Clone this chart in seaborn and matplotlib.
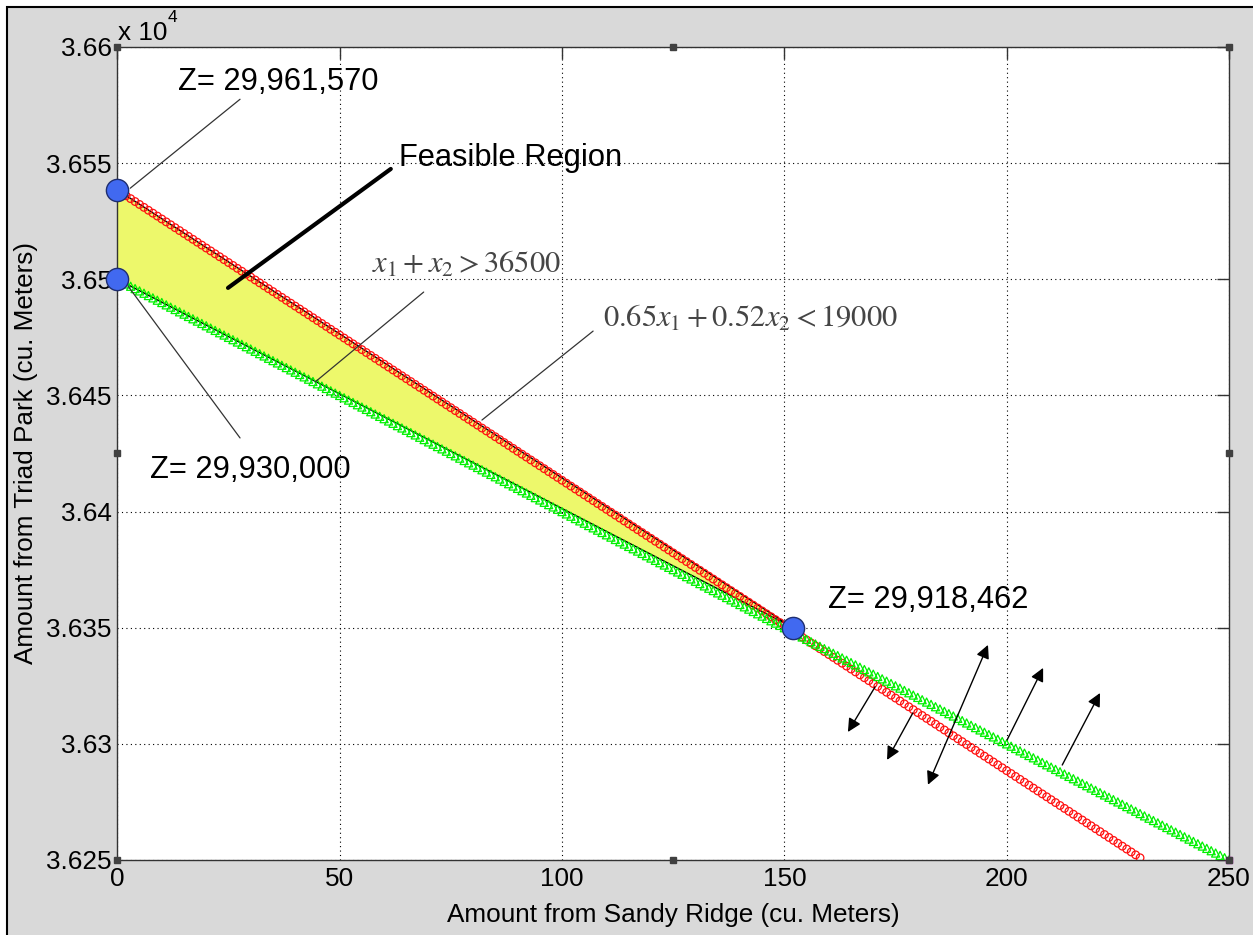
import numpy as np
import matplotlib
matplotlib.use("Agg")
import matplotlib.pyplot as plt
import seaborn as sns
from matplotlib.patches import Rectangle, Polygon

# Constraint lines: coefficients of x1, x2 and right-hand side
capacity_coef = [0.65, 0.52]
capacity_rhs = 19000
demand_coef = [1.0, 1.0]
demand_rhs = 36500

# x1 values sampled along each constraint (1 cu. m steps, as in the plot)
capacity_x = np.arange(0, 231)
demand_x = np.arange(0, 251)

# Corner points of the feasible region and their objective values
corner_x = [0, 0, 152]
corner_y = [36538.5, 36500, 36350]
corner_labels = ["Z= 29,961,570", "Z= 29,930,000", "Z= 29,918,462"]

# Axis ticks
xticks = [0, 50, 100, 150, 200, 250]
yticks = [36250, 36300, 36350, 36400, 36450, 36500, 36550, 36600]
ytick_labels = ["3.625", "3.63", "3.635", "3.64", "3.645", "3.65", "3.655", "3.66"]

capacity_y = (capacity_rhs - capacity_coef[0] * capacity_x) / capacity_coef[1]
demand_y = (demand_rhs - demand_coef[0] * demand_x) / demand_coef[1]

sns.set_style("white")
plt.rcParams["font.family"] = ["Liberation Sans", "DejaVu Sans"]
plt.rcParams["text.color"] = "black"
plt.rcParams["axes.labelcolor"] = "black"

fig = plt.figure(figsize=(12.53, 9.35), dpi=100, facecolor="white")
# gray MATLAB figure window with a black frame on left/top
fig.patches.append(Rectangle((7 / 1253, -0.05), 1.1, 1.05 - 7 / 935,
                             transform=fig.transFigure, facecolor="#D9D9D9",
                             edgecolor="black", lw=1.5, zorder=-10))

ax = fig.add_axes([117.3 / 1253, 75 / 935, 1111.7 / 1253, 813 / 935])
ax.set_facecolor("white")

# feasible region
ax.add_patch(Polygon(list(zip(corner_x, corner_y)), closed=True,
                     facecolor="#EDF86B", edgecolor="black", lw=1.0, zorder=2))

sns.scatterplot(x=capacity_x, y=capacity_y, marker="o", s=30,
                facecolors="none", edgecolor="#FF1010", linewidth=0.9,
                ax=ax, zorder=3)
sns.scatterplot(x=demand_x, y=demand_y, marker="^", s=34,
                facecolors="none", edgecolor="#00F000", linewidth=0.9,
                ax=ax, zorder=3)
ax.plot([250], [36250], marker="s", ms=5, mfc="#E080E0", mec="#C000C0",
        clip_on=False, zorder=4)

ax.plot(corner_x, corner_y, ls="none", marker="o", ms=16, mfc="#4169F0",
        mec="#1E2E70", mew=1.0, clip_on=False, zorder=6)

ax.set_xlim(0, 250)
ax.set_ylim(36250, 36600)
ax.set_xticks(xticks)
ax.set_xticklabels([str(v) for v in xticks])
ax.set_yticks(yticks)
ax.set_yticklabels(ytick_labels)
ax.grid(True, color="black", ls=(0, (1, 3)), lw=0.8)
ax.tick_params(direction="in", length=8.5, width=1, color="#333333",
               labelcolor="black", labelsize=18.8, pad=4, top=True, right=True)
ax.tick_params(axis="x", pad=5)
for sp in ax.spines.values():
    sp.set_color("#333333")
    sp.set_linewidth(1)
    sp.set_visible(True)

ax.set_xlabel("Amount from Sandy Ridge (cu. Meters)", fontsize=18.8, labelpad=9)
ax.set_ylabel("Amount from Triad Park (cu. Meters)", fontsize=18.8, labelpad=6)

fig.text(118 / 1253, 1 - 33 / 935, "x 10", fontsize=18.8, va="center")
fig.text(168 / 1253, 1 - 18 / 935, "4", fontsize=12.5, va="center")

# selection handles around the axes
hx = [0, 125, 250, 0, 250, 0, 125, 250]
hy = [36600, 36600, 36600, 36425, 36425, 36250, 36250, 36250]
ax.plot(hx, hy, ls="none", marker="s", ms=4.5, color="#404040",
        clip_on=False, zorder=5)

# labels and leader lines
ax.text(13.6, 36585, corner_labels[0], fontsize=22.2, va="center")
ax.text(7.4, 36418, corner_labels[1], fontsize=22.2, va="center")
ax.text(159.8, 36362, corner_labels[2], fontsize=22.2, va="center")
ax.text(63.3, 36552, "Feasible Region", fontsize=22.2, va="center")

lead = "#333333"
ax.plot([27.6, 2.9], [36577.5, 36539.2], color=lead, lw=0.9, zorder=4)
ax.plot([27.6, 2.4], [36431.7, 36497.1], color=lead, lw=0.9, zorder=4)
ax.plot([24.9, 61.5], [36496.3, 36547.5], color="black", lw=3, zorder=4)
ax.plot([68.9, 44.5], [36494.5, 36455.8], color=lead, lw=0.9, zorder=4)
ax.plot([107.0, 82.0], [36477.7, 36439.4], color=lead, lw=0.9, zorder=4)

ax.text(57.2, 36502.8, r"$x_1 + x_2 > 36500$", fontsize=22, color="#454545",
        va="baseline", math_fontfamily="stix")
ax.text(109.2, 36479.6, r"$0.65x_1 + 0.52x_2 < 19000$", fontsize=22,
        color="#454545", va="baseline", math_fontfamily="stix")

# direction arrows
arrows = [((170.4, 36324.5), (164.3, 36305.1), "-|>"),
          ((178.9, 36313.3), (173.1, 36293.1), "-|>"),
          ((182.3, 36282.4), (195.8, 36342.6), "<|-|>"),
          ((200.1, 36301.7), (208.2, 36332.7), "-|>"),
          ((212.5, 36290.9), (221.0, 36321.9), "-|>")]
for tail, head, style in arrows:
    ax.annotate("", xy=head, xytext=tail,
                arrowprops=dict(arrowstyle=style, color="black", lw=1,
                                mutation_scale=20, shrinkA=0, shrinkB=0),
                zorder=5)

fig.savefig("out.png", dpi=100, facecolor=fig.get_facecolor())
